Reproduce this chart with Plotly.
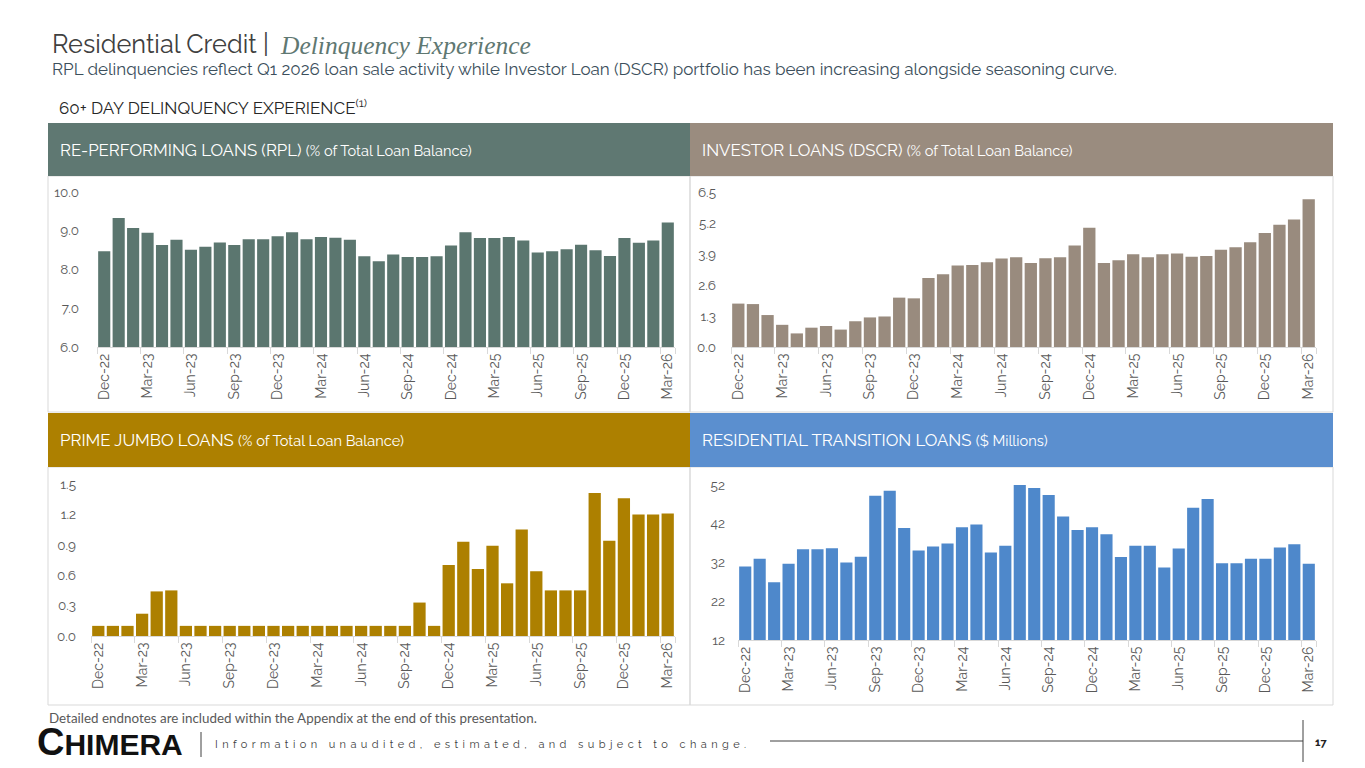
import plotly.graph_objects as go

W, H = 1365, 768

months = [
    "Dec-22", "Jan-23", "Feb-23", "Mar-23", "Apr-23", "May-23", "Jun-23", "Jul-23",
    "Aug-23", "Sep-23", "Oct-23", "Nov-23", "Dec-23", "Jan-24", "Feb-24", "Mar-24",
    "Apr-24", "May-24", "Jun-24", "Jul-24", "Aug-24", "Sep-24", "Oct-24", "Nov-24",
    "Dec-24", "Jan-25", "Feb-25", "Mar-25", "Apr-25", "May-25", "Jun-25", "Jul-25",
    "Aug-25", "Sep-25", "Oct-25", "Nov-25", "Dec-25", "Jan-26", "Feb-26", "Mar-26",
]

# 60+ day delinquency, % of total loan balance
rpl_pct = [
    8.47, 9.33, 9.07, 8.95, 8.63, 8.77, 8.51, 8.59, 8.70, 8.63,
    8.78, 8.78, 8.86, 8.96, 8.78, 8.84, 8.82, 8.77, 8.34, 8.21,
    8.39, 8.32, 8.32, 8.34, 8.62, 8.96, 8.81, 8.81, 8.84, 8.75,
    8.44, 8.47, 8.52, 8.64, 8.50, 8.35, 8.81, 8.69, 8.75, 9.21,
]
dscr_pct = [
    1.82, 1.80, 1.34, 0.93, 0.57, 0.81, 0.88, 0.73, 1.08, 1.24,
    1.28, 2.07, 2.04, 2.89, 3.05, 3.42, 3.44, 3.55, 3.71, 3.76,
    3.52, 3.72, 3.76, 4.26, 5.00, 3.52, 3.64, 3.89, 3.76, 3.89,
    3.92, 3.78, 3.82, 4.08, 4.18, 4.39, 4.78, 5.13, 5.35, 6.20,
]
jumbo_pct = [
    0.10, 0.10, 0.10, 0.22, 0.44, 0.45, 0.10, 0.10, 0.10, 0.10,
    0.10, 0.10, 0.10, 0.10, 0.10, 0.10, 0.10, 0.10, 0.10, 0.10,
    0.10, 0.10, 0.33, 0.10, 0.70, 0.93, 0.66, 0.89, 0.52, 1.05,
    0.64, 0.45, 0.45, 0.45, 1.41, 0.94, 1.36, 1.20, 1.20, 1.21,
]
# $ millions
rtl_musd = [
    31.0, 33.0, 26.9, 31.7, 35.4, 35.4, 35.7, 32.0, 33.5, 49.2,
    50.5, 40.9, 35.1, 36.1, 36.9, 41.1, 41.8, 34.6, 36.3, 52.3,
    51.2, 49.4, 43.9, 40.4, 41.1, 39.3, 33.4, 36.3, 36.3, 30.7,
    35.6, 46.1, 48.4, 31.8, 31.8, 33.0, 33.0, 35.9, 36.7, 31.7,
]

rpl_ticks = [6.0, 7.0, 8.0, 9.0, 10.0]
dscr_ticks = [0.0, 1.3, 2.6, 3.9, 5.2, 6.5]
jumbo_ticks = [0.0, 0.3, 0.6, 0.9, 1.2, 1.5]
rtl_ticks = [12, 22, 32, 42, 52]


def fx(x):
    return x / W


def fy(y):
    return 1 - y / H


FONT = "Raleway, 'Open Sans', sans-serif"
GRAY = "#595959"
LINE = "#d9d9d9"

panels = [
    dict(vals=rpl_pct, color="#5b766f", x0=97, x1=675, ytop=192, ybot=347,
         rng=[6, 10], ticks=rpl_ticks, fmt=".1f", pad=17),
    dict(vals=dscr_pct, color="#998b7e", x0=731, x1=1316, ytop=192, ybot=347,
         rng=[0, 6.5], ticks=dscr_ticks, fmt=".1f", pad=14),
    dict(vals=jumbo_pct, color="#ad8000", x0=91, x1=675, ytop=484, ybot=636,
         rng=[0, 1.5], ticks=jumbo_ticks, fmt=".1f", pad=14),
    dict(vals=rtl_musd, color="#4e88cb", x0=738, x1=1316, ytop=485, ybot=640,
         rng=[12, 52], ticks=rtl_ticks, fmt="d", pad=12),
]

fig = go.Figure()
layout_axes = {}
for i, p in enumerate(panels, start=1):
    sfx = "" if i == 1 else str(i)
    fig.add_trace(go.Bar(
        x=months, y=p["vals"], marker_color=p["color"], marker_line_width=0,
        xaxis="x" + sfx, yaxis="y" + sfx, cliponaxis=False,
        hovertemplate="%{x}: %{y}<extra></extra>",
    ))
    layout_axes["xaxis" + sfx] = dict(
        domain=[fx(p["x0"]), fx(p["x1"])], anchor="y" + sfx, automargin=False,
        type="category", tickmode="array", tickvals=months[::3],
        tickson="boundaries", tickangle=-90, ticks="outside", ticklen=6,
        tickcolor=LINE, showline=True, linecolor=LINE, linewidth=1,
        showgrid=False, tickfont=dict(family=FONT, size=14, color=GRAY),
    )
    layout_axes["yaxis" + sfx] = dict(
        domain=[fy(p["ybot"]), fy(p["ytop"])], anchor="x" + sfx, automargin=False,
        range=p["rng"], tickmode="array", tickvals=p["ticks"], tickformat=p["fmt"],
        showgrid=False, zeroline=False, showline=False, ticks="",
        ticklabelstandoff=p["pad"], tickfont=dict(family=FONT, size=13.5, color=GRAY),
    )

shapes = []
# panel frames
for (x0, x1) in [(48, 690), (690, 1333)]:
    for (y0, y1) in [(176, 412), (467, 705)]:
        shapes.append(dict(type="rect", xref="paper", yref="paper",
                           x0=fx(x0), x1=fx(x1), y0=fy(y1), y1=fy(y0),
                           line=dict(color=LINE, width=1), layer="below"))

headers = [
    (48, 690, 123, 176, "#5f7872", "RE-PERFORMING LOANS (RPL)", "(% of Total Loan Balance)"),
    (690, 1333, 123, 176, "#9a8c7f", "INVESTOR LOANS (DSCR)", "(% of Total Loan Balance)"),
    (48, 690, 413, 467, "#ad8000", "PRIME JUMBO LOANS", "(% of Total Loan Balance)"),
    (690, 1333, 413, 467, "#5b8fcf", "RESIDENTIAL TRANSITION LOANS", "($ Millions)"),
]
annotations = []
for x0, x1, y0, y1, col, big, small in headers:
    shapes.append(dict(type="rect", xref="paper", yref="paper",
                       x0=fx(x0), x1=fx(x1), y0=fy(y1), y1=fy(y0),
                       fillcolor=col, line=dict(width=0), layer="below"))
    annotations.append(dict(
        xref="paper", yref="paper", x=fx(x0 + 10), y=fy((y0 + y1) / 2),
        xanchor="left", yanchor="middle", showarrow=False,
        text=f"{big} <span style='font-size:14.6px'>{small}</span>",
        font=dict(family=FONT, size=16.8, color="white"),
    ))

# title block
annotations += [
    dict(xref="paper", yref="paper", x=fx(50), y=fy(44), xanchor="left", yanchor="middle",
         showarrow=False, text="Residential Credit |",
         font=dict(family=FONT, size=25.3, color="#404040")),
    dict(xref="paper", yref="paper", x=fx(278), y=fy(45), xanchor="left", yanchor="middle",
         showarrow=False, text="<i>Delinquency Experience</i>",
         font=dict(family="Liberation Serif, serif", size=25.5, color="#5f7872")),
    dict(xref="paper", yref="paper", x=fx(50), y=fy(69), xanchor="left", yanchor="middle",
         showarrow=False,
         text="RPL delinquencies reflect Q1 2026 loan sale activity while Investor Loan (DSCR) "
              "portfolio has been increasing alongside seasoning curve.",
         font=dict(family=FONT, size=17, color="#3c4f5c")),
    dict(xref="paper", yref="paper", x=fx(57), y=fy(107), xanchor="left", yanchor="middle",
         showarrow=False, text="60+ DAY DELINQUENCY EXPERIENCE<sup>(1)</sup>",
         font=dict(family=FONT, size=17, color="#262626")),
    # footer
    dict(xref="paper", yref="paper", x=fx(47), y=fy(718), xanchor="left", yanchor="middle",
         showarrow=False,
         text="Detailed endnotes are included within the Appendix at the end of this presentation.",
         font=dict(family="Lato, sans-serif", size=13.4, color="#595959")),
    dict(xref="paper", yref="paper", x=fx(35), y=fy(742), xanchor="left", yanchor="middle",
         showarrow=False,
         text="<b><span style='font-size:38px'>C</span>HIMERA</b>",
         font=dict(family="Liberation Sans, Arial, sans-serif", size=30, color="#111111")),
    dict(xref="paper", yref="paper", x=fx(213), y=fy(744), xanchor="left", yanchor="middle",
         showarrow=False,
         text="<span style='letter-spacing:4.4px'>Information unaudited, estimated, "
              "and subject to change.</span>",
         font=dict(family=FONT, size=11, color="#404040")),
    dict(xref="paper", yref="paper", x=fx(1313), y=fy(742), xanchor="left", yanchor="middle",
         showarrow=False, text="<b>17</b>",
         font=dict(family=FONT, size=11, color="#222222")),
]
shapes += [
    dict(type="line", xref="paper", yref="paper", x0=fx(201), x1=fx(201),
         y0=fy(757), y1=fy(732), line=dict(color="#404040", width=1)),
    dict(type="line", xref="paper", yref="paper", x0=fx(770), x1=fx(1303),
         y0=fy(741), y1=fy(741), line=dict(color="#404040", width=1)),
    dict(type="line", xref="paper", yref="paper", x0=fx(1303), x1=fx(1303),
         y0=fy(762), y1=fy(720), line=dict(color="#404040", width=1)),
]

fig.update_layout(
    width=W, height=H, margin=dict(l=0, r=0, t=0, b=0, pad=0, autoexpand=False),
    paper_bgcolor="white", plot_bgcolor="white",
    showlegend=False, bargap=0.16,
    shapes=shapes, annotations=annotations,
    **layout_axes,
)

# drop the browser's default page margin so the slide sits at (0, 0)
fig.write_html("out.html", config={"displayModeBar": False},
               post_script="document.body.style.margin='0';"
                           "document.body.style.overflow='hidden';")
